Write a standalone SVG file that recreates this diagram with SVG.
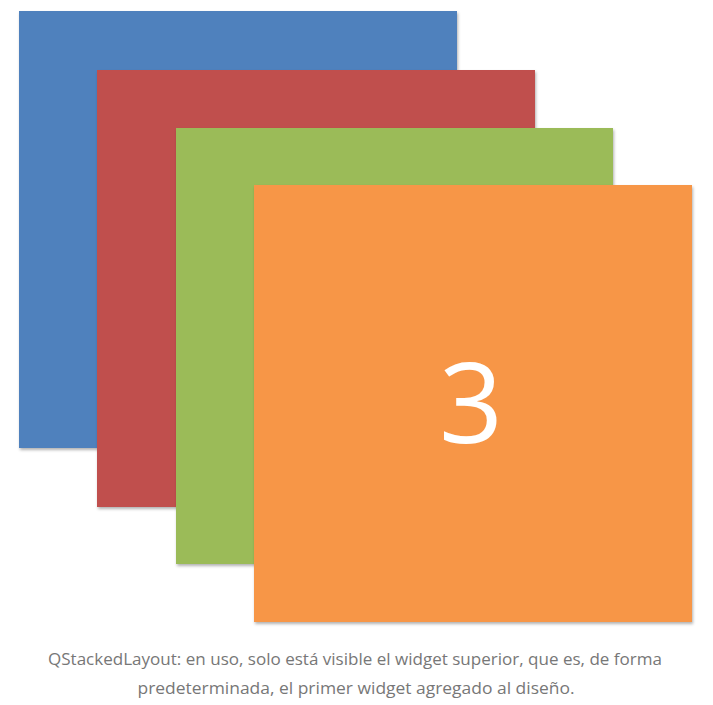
<svg xmlns="http://www.w3.org/2000/svg" width="713" height="705" viewBox="0 0 713 705">
<style>
.card{filter:url(#sh)}
.cap{font-family:"Open Sans","Liberation Sans",sans-serif;font-size:15.5px;fill:#777777;text-anchor:middle}
.num{font-family:"Open Sans","Liberation Sans",sans-serif;font-size:112px;font-weight:500;fill:#ffffff;text-anchor:middle}
</style>
<defs>
<filter id="sh" x="-5%" y="-5%" width="112%" height="112%">
<feDropShadow dx="1" dy="2" stdDeviation="1.5" flood-color="#000000" flood-opacity="0.3"/>
</filter>
</defs>
<rect width="713" height="705" fill="#ffffff"/>
<g id="widget-blue"><rect class="card" x="19" y="11" width="438" height="437" fill="#4F81BD"/></g>
<g id="widget-red"><rect class="card" x="97" y="70" width="438" height="437" fill="#C0504D"/></g>
<g id="widget-green"><rect class="card" x="176" y="128" width="437" height="436" fill="#9BBB59"/></g>
<g id="widget-orange"><rect class="card" x="254" y="185" width="438" height="437" fill="#F79646"/>
<text class="num" x="471" y="443">3</text></g>
<g id="connectors"/>
<g id="caption">
<text class="cap" x="355" y="665" textLength="614" lengthAdjust="spacingAndGlyphs">QStackedLayout: en uso, solo está visible el widget superior, que es, de forma</text>
<text class="cap" x="356" y="694" textLength="437" lengthAdjust="spacingAndGlyphs">predeterminada, el primer widget agregado al diseño.</text>
</g>
</svg>
